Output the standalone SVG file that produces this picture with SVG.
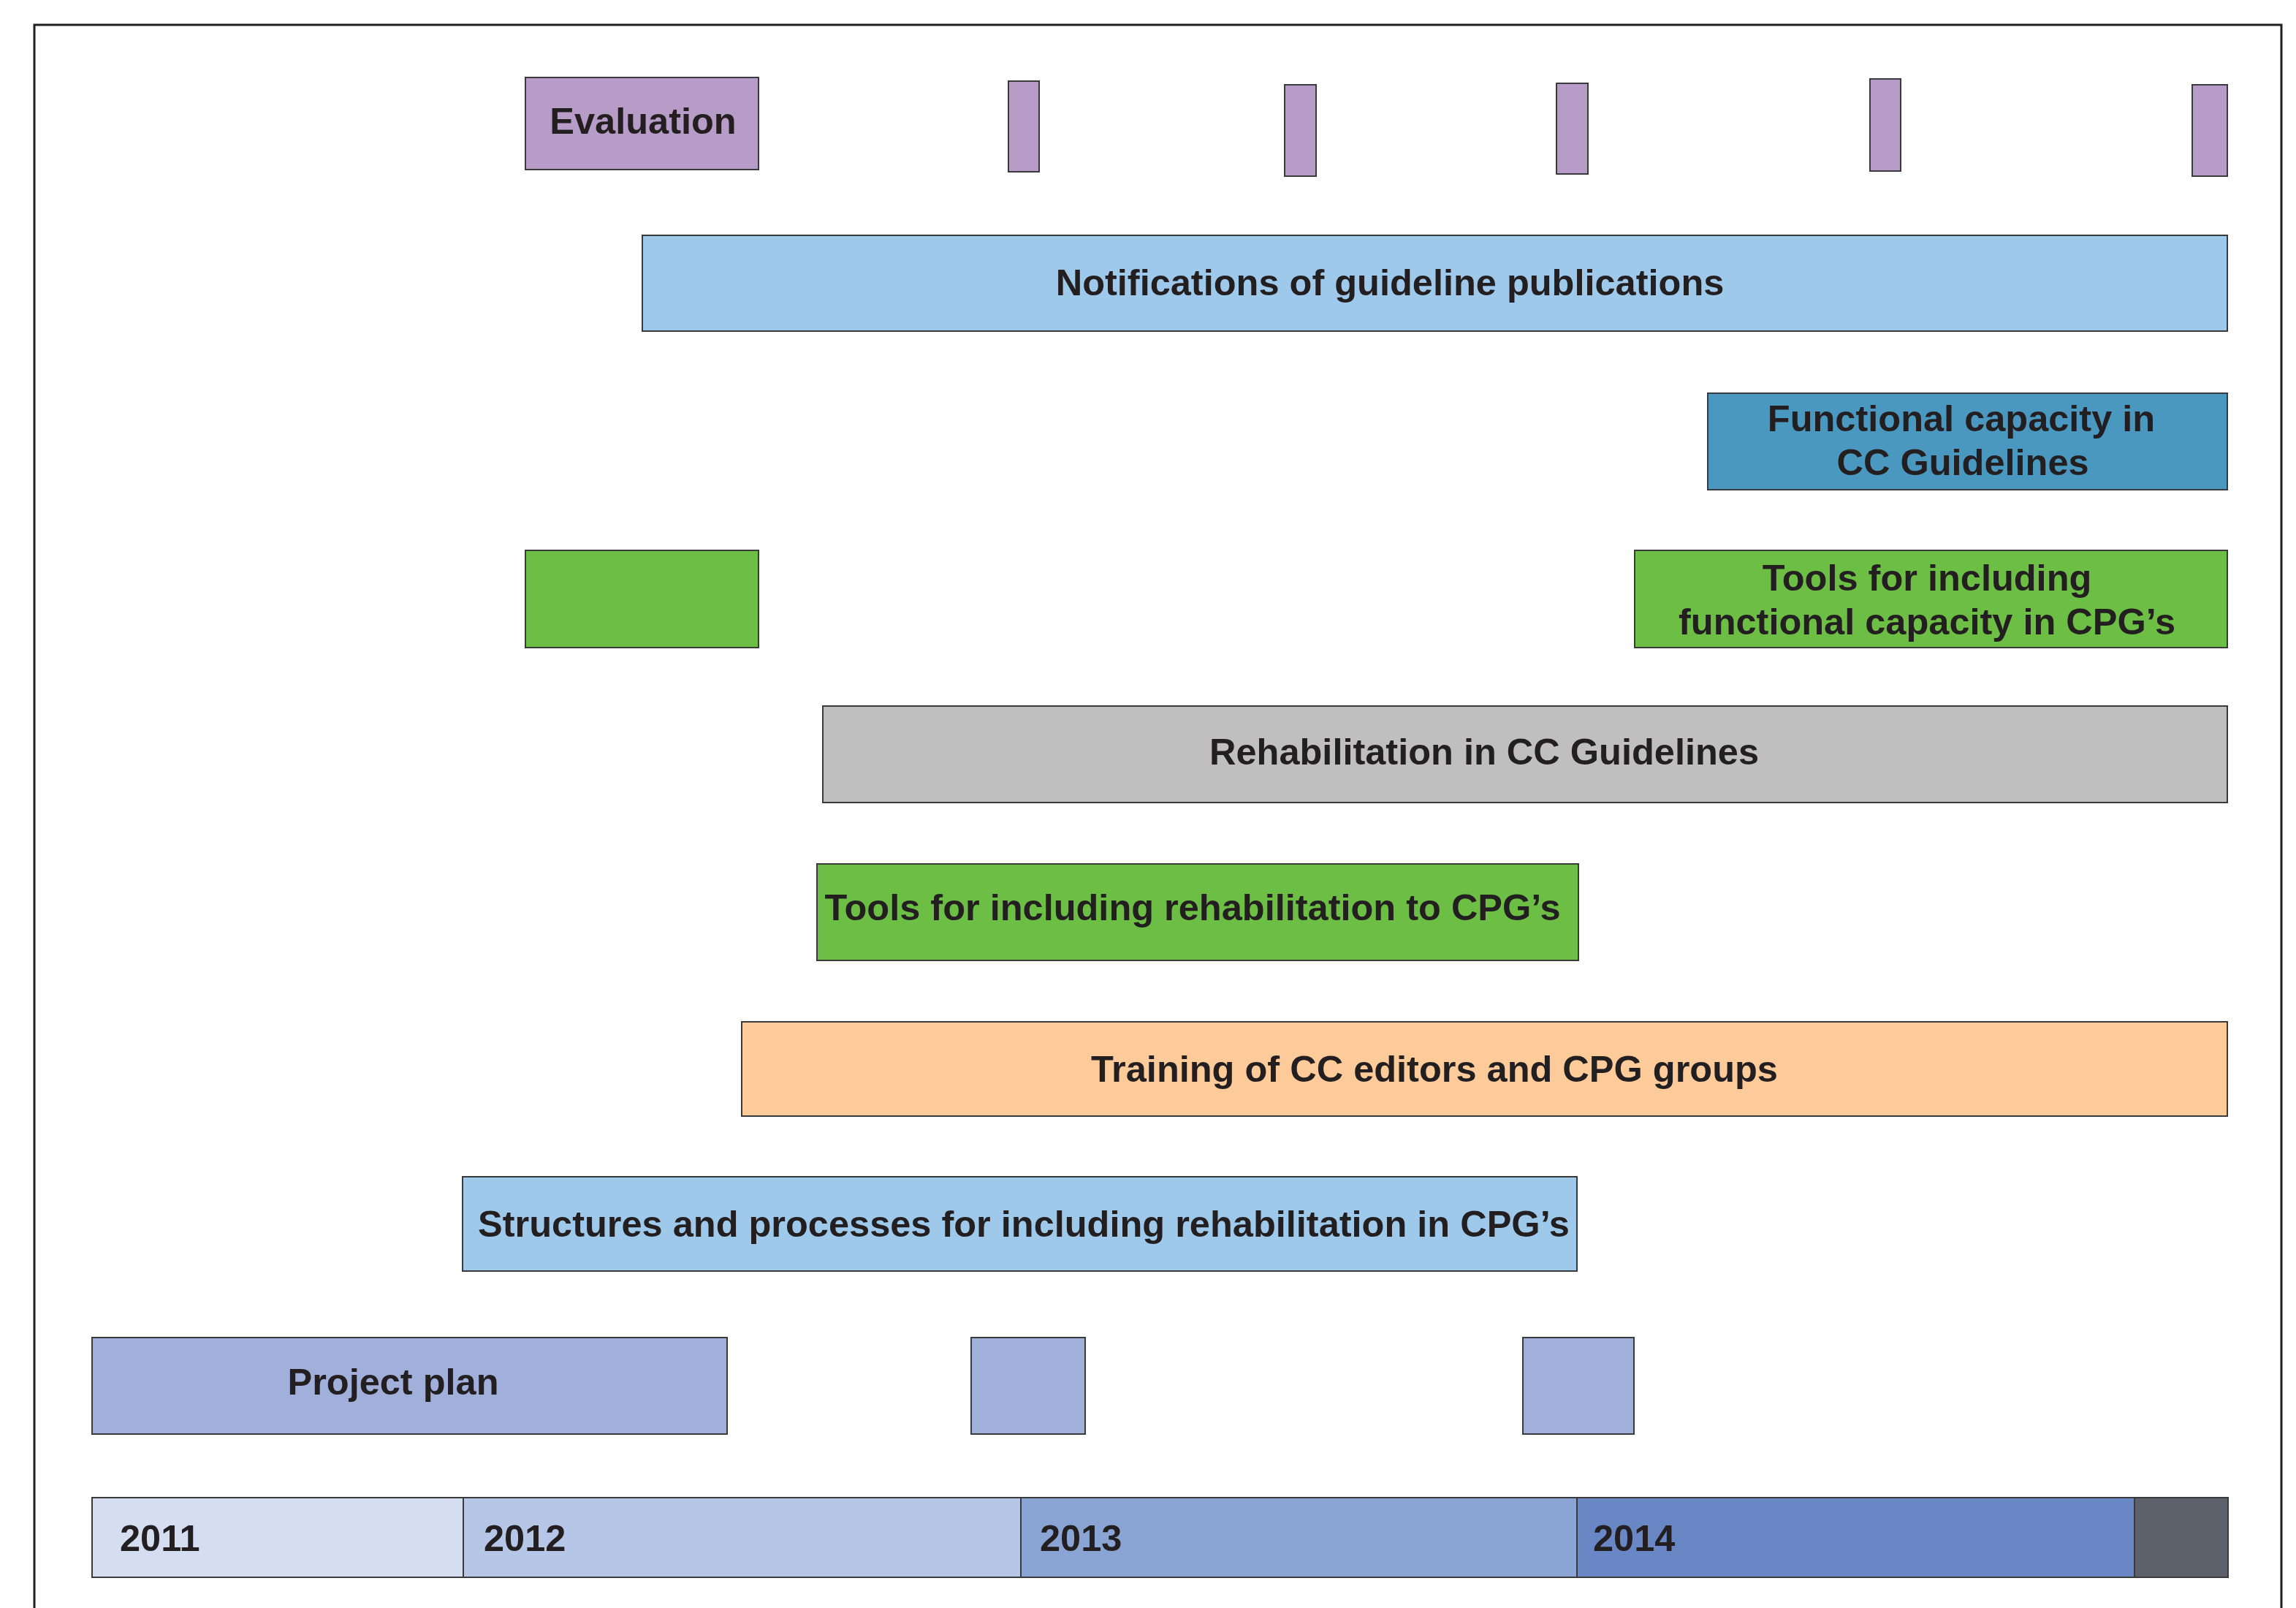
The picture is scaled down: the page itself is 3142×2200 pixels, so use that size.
<svg xmlns="http://www.w3.org/2000/svg" width="3142" height="2200" viewBox="0 0 3142 2200">
  <style>
    .bar { stroke: #3a3a3c; stroke-width: 2; }
    .lbl { font-family: "Liberation Sans", Arial, sans-serif; font-weight: bold; font-size: 50.5px; fill: #231f20; text-anchor: middle; }
    .yr { font-family: "Liberation Sans", Arial, sans-serif; font-weight: bold; font-size: 50.5px; fill: #231f20; }
    .eval { fill: #b89cc8; }
    .notif { fill: #9fc9ea; }
    .func { fill: #4a98c0; }
    .green { fill: #6dbe45; }
    .grey { fill: #bfbfbf; }
    .peach { fill: #fdca9a; }
    .plan { fill: #a0b0da; }
  </style>

  <rect width="3142" height="2200" fill="#ffffff"/>

  <!-- outer frame (open at the bottom) -->
  <path d="M47 2200 V34 H3122 V2200" fill="none" stroke="#231f20" stroke-width="3"/>

  <!-- evaluation points -->
  <g id="evaluation">
    <rect class="bar eval" x="719" y="106" width="319" height="126"/>
    <text class="lbl" x="880" y="183">Evaluation</text>
  </g>
  <g id="evaluation-2"><rect class="bar eval" x="1380" y="111" width="42" height="124"/></g>
  <g id="evaluation-3"><rect class="bar eval" x="1758" y="116" width="43" height="125"/></g>
  <g id="evaluation-4"><rect class="bar eval" x="2130" y="114" width="43" height="124"/></g>
  <g id="evaluation-5"><rect class="bar eval" x="2559" y="108" width="42" height="126"/></g>
  <g id="evaluation-6"><rect class="bar eval" x="3000" y="116" width="48" height="125"/></g>

  <g id="notifications">
    <rect class="bar notif" x="879" y="322" width="2169" height="131"/>
    <text class="lbl" x="1902" y="404">Notifications of guideline publications</text>
  </g>

  <g id="functional-capacity">
    <rect class="bar func" x="2337" y="538" width="711" height="132"/>
    <text class="lbl" x="2684" y="590">Functional capacity in</text>
    <text class="lbl" x="2686" y="650">CC Guidelines</text>
  </g>

  <g id="tools-functional-early">
    <rect class="bar green" x="719" y="753" width="319" height="133"/>
  </g>

  <g id="tools-functional">
    <rect class="bar green" x="2237" y="753" width="811" height="133"/>
    <text class="lbl" x="2637" y="808">Tools for including</text>
    <text class="lbl" x="2637" y="868">functional capacity in CPG’s</text>
  </g>

  <g id="rehabilitation">
    <rect class="bar grey" x="1126" y="966" width="1922" height="132"/>
    <text class="lbl" x="2031" y="1046">Rehabilitation in CC Guidelines</text>
  </g>

  <g id="tools-rehabilitation">
    <rect class="bar green" x="1118" y="1182" width="1042" height="132"/>
    <text class="lbl" x="1632" y="1259">Tools for including rehabilitation to CPG’s</text>
  </g>

  <g id="training">
    <rect class="bar peach" x="1015" y="1398" width="2033" height="129"/>
    <text class="lbl" x="1963" y="1480">Training of CC editors and CPG groups</text>
  </g>

  <g id="structures">
    <rect class="bar notif" x="633" y="1610" width="1525" height="129"/>
    <text class="lbl" x="1401" y="1692">Structures and processes for including rehabilitation in CPG’s</text>
  </g>

  <g id="project-plan">
    <rect class="bar plan" x="126" y="1830" width="869" height="132"/>
    <text class="lbl" x="538" y="1908">Project plan</text>
  </g>
  <g id="project-plan-2"><rect class="bar plan" x="1329" y="1830" width="156" height="132"/></g>
  <g id="project-plan-3"><rect class="bar plan" x="2084" y="1830" width="152" height="132"/></g>

  <!-- timeline of years -->
  <g id="timeline">
    <rect class="bar" x="126" y="2049" width="508" height="109" fill="#d5ddf0"/>
    <rect class="bar" x="634" y="2049" width="763" height="109" fill="#b6c6e6"/>
    <rect class="bar" x="1397" y="2049" width="761" height="109" fill="#8aa4d4"/>
    <rect class="bar" x="2158" y="2049" width="763" height="109" fill="#6987c5"/>
    <rect class="bar" x="2921" y="2049" width="128" height="109" fill="#5d616b"/>
    <text class="yr" x="164" y="2122">2011</text>
    <text class="yr" x="662" y="2122">2012</text>
    <text class="yr" x="1423" y="2122">2013</text>
    <text class="yr" x="2180" y="2122">2014</text>
  </g>
</svg>
